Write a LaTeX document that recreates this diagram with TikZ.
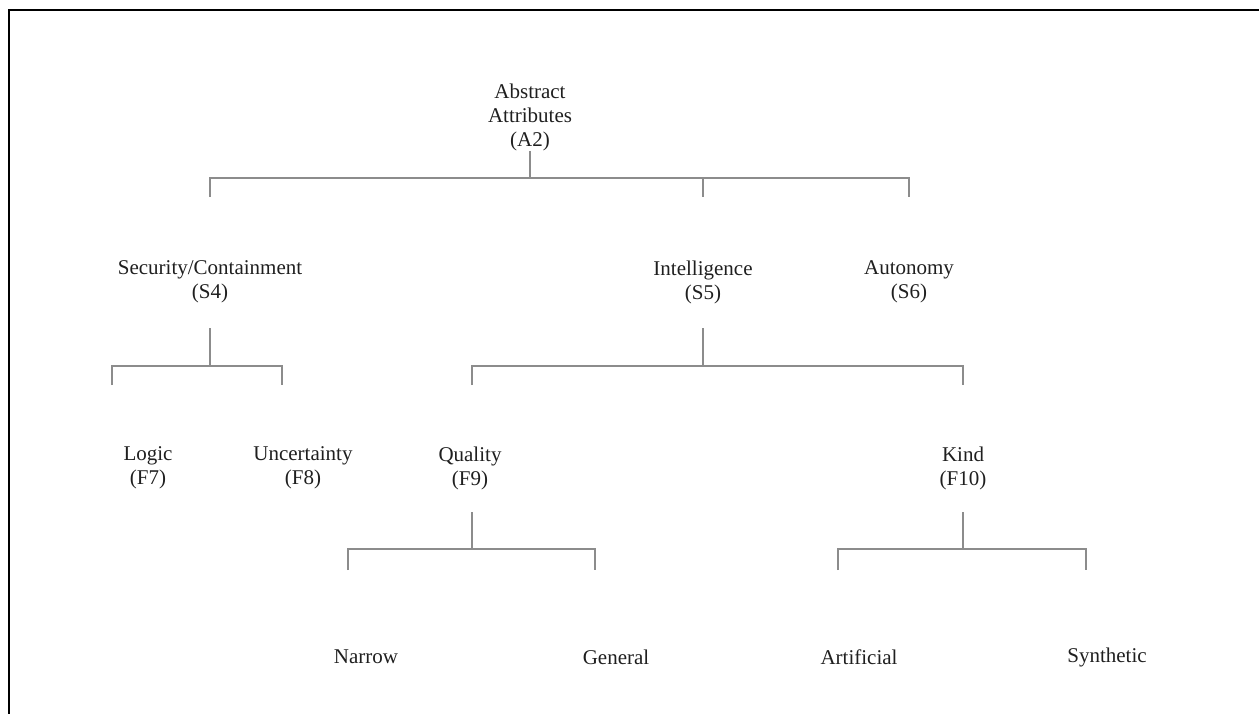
\documentclass[tikz,border=0pt]{standalone}
\usepackage{fontspec}
\setmainfont{Liberation Serif}
\begin{document}
\begin{tikzpicture}[x=1pt,y=-1pt,
  lbl/.style={align=center,inner sep=0pt,font=\fontsize{21}{24}\selectfont,text=black!88},
  conn/.style={draw=black!45,line width=1.4pt}]
\useasboundingbox (0,0) rectangle (1259,714);
\draw[line width=2.8pt] (9,714) -- (9,10) -- (1259,10);

% nodes
\node[lbl] (A2) at (530,117) {Abstract\\Attributes\\(A2)};
\node[lbl] (S4) at (210,282) {Security/Containment\\(S4)};
\node[lbl] (S5) at (703,282) {Intelligence\\(S5)};
\node[lbl] (S6) at (909,282) {Autonomy\\(S6)};
\node[lbl] (F7) at (148,468) {Logic\\(F7)};
\node[lbl] (F8) at (303,468) {Uncertainty\\(F8)};
\node[lbl] (F9) at (470,468) {Quality\\(F9)};
\node[lbl] (F10) at (963,468) {Kind\\(F10)};
\node[lbl] (N) at (366,657) {Narrow};
\node[lbl] (G) at (616,657) {General};
\node[lbl] (Ar) at (859,657) {Artificial};
\node[lbl] (Sy) at (1107,657) {Synthetic};

% junctions and drop ends
\coordinate (sA) at (530,151);
\coordinate (jA) at (530,178);
\coordinate (dS4) at (210,197);
\coordinate (dS5) at (703,197);
\coordinate (dS6) at (909,197);

\coordinate (s4) at (210,328);
\coordinate (j4) at (210,366);
\coordinate (dF7) at (112,385);
\coordinate (dF8) at (282,385);

\coordinate (s5) at (703,328);
\coordinate (j5) at (703,366);
\coordinate (dF9) at (472,385);
\coordinate (dF10) at (963,385);

\coordinate (s9) at (472,512);
\coordinate (j9) at (472,549);
\coordinate (dN) at (348,570);
\coordinate (dG) at (595,570);

\coordinate (s10) at (963,512);
\coordinate (j10) at (963,549);
\coordinate (dAr) at (838,570);
\coordinate (dSy) at (1086,570);

% connectors
\draw[conn] (sA) -- (jA);
\draw[conn] (dS4) |- (jA) -| (dS6);
\draw[conn] (jA -| dS5) -- (dS5);

\draw[conn] (s4) -- (j4);
\draw[conn] (dF7) |- (j4) -| (dF8);

\draw[conn] (s5) -- (j5);
\draw[conn] (dF9) |- (j5) -| (dF10);

\draw[conn] (s9) -- (j9);
\draw[conn] (dN) |- (j9) -| (dG);

\draw[conn] (s10) -- (j10);
\draw[conn] (dAr) |- (j10) -| (dSy);
\end{tikzpicture}
\end{document}
